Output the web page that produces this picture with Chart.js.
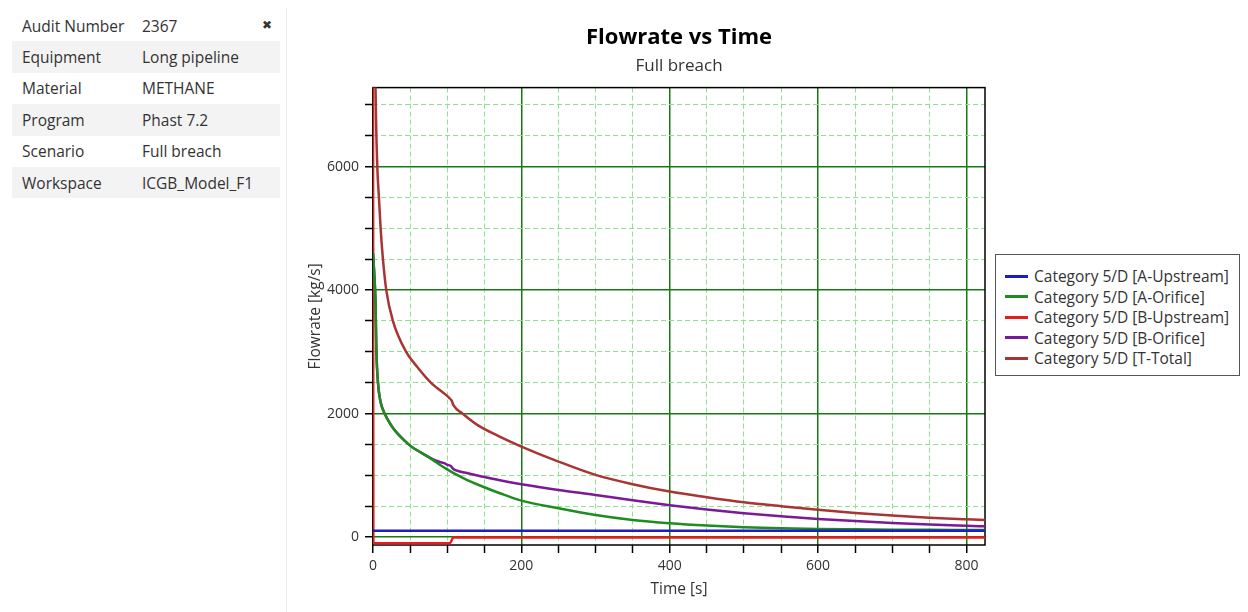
<!DOCTYPE html>
<html>
<head>
<meta charset="utf-8">
<script src="https://cdn.jsdelivr.net/npm/chart.js@4"></script>
<style>
  body { margin: 0; width: 1248px; height: 612px; background: #fff; position: relative; overflow: hidden;
         font-family: "Open Sans", sans-serif; color: #333; }
  #info { position: absolute; left: 12px; top: 10px; width: 268px; border-collapse: collapse; font-size: 15.5px; }
  #info td { height: 31.4px; padding: 0 0 0 10px; white-space: nowrap; }
  #info td:first-child { width: 110px; }
  #info tr:nth-child(even) { background: #f3f3f3; }
  #close { position: absolute; left: 262px; top: 16px; font-size: 12px; color: #333; }
  #divider { position: absolute; left: 286px; top: 8px; width: 1px; height: 604px; background: #ececec; }
  #wrap { position: absolute; left: 290px; top: 0; width: 778px; height: 612px; }
  #legend { position: absolute; left: 995px; top: 254px; width: 245px; height: 122px; border: 1px solid #555;
            box-sizing: border-box; padding-top: 11px; background: #fff; font-size: 15.5px; }
  #legend div { height: 20.5px; line-height: 20.5px; white-space: nowrap; }
  #legend span { display: inline-block; width: 23px; height: 3px; margin: 0 6px 3px 9px; vertical-align: middle; }
</style>
</head>
<body>
<table id="info"></table>
<div id="close">&#10006;</div>
<div id="divider"></div>
<div id="wrap"><canvas id="myChart"></canvas></div>
<div id="legend"></div>
<script>
// info panel
const infoKeys = ["Audit Number", "Equipment", "Material", "Program", "Scenario", "Workspace"];
const infoValues = ["2367", "Long pipeline", "METHANE", "Phast 7.2", "Full breach", "ICGB_Model_F1"];

// series
const seriesNames = ["Category 5/D [A-Upstream]", "Category 5/D [A-Orifice]", "Category 5/D [B-Upstream]",
  "Category 5/D [B-Orifice]", "Category 5/D [T-Total]"];
const seriesColors = ["#1c1cc8", "#1e8c1e", "#e81c1c", "#7a1a96", "#a83434"];

const upstreamATime = [0, 825];
const upstreamAFlow = [100, 100];

const orificeATime = [0, 2, 3.4, 4.5, 6.7, 10, 15.7, 25, 32, 42.5, 50, 60, 70, 81, 90, 100, 110, 125, 145, 171,
  200, 250, 300, 350, 400, 450, 500, 550, 600, 650, 700, 750, 800, 825];
const orificeAFlow = [4600, 4200, 3800, 3050, 2500, 2200, 2000, 1800, 1690, 1560, 1480, 1400, 1330, 1245, 1170,
  1095, 1025, 935, 830, 709, 589, 465, 357, 276, 222, 184, 157, 140, 130, 124, 119, 116, 114, 113];

const upstreamBTime = [0, 0.5, 104, 108, 825];
const upstreamBFlow = [9000, -100, -100, -10, -10];

const orificeBTime = [0, 2, 3.4, 4.5, 6.7, 10, 15.7, 25, 32, 42.5, 50, 60, 70, 81, 90, 96, 100, 105, 108, 112,
  125, 145, 171, 200, 250, 300, 350, 400, 450, 500, 550, 600, 650, 700, 750, 800, 825];
const orificeBFlow = [4600, 4200, 3800, 3050, 2500, 2200, 2000, 1800, 1690, 1560, 1480, 1400, 1330, 1258, 1215,
  1195, 1170, 1150, 1105, 1078, 1040, 985, 918, 855, 762, 681, 595, 515, 445, 385, 335, 293, 258, 228, 203, 182, 172];

const totalTime = [0, 3.4, 5.8, 8, 10.3, 13.4, 17.9, 26.8, 44.7, 60, 78, 103, 106, 108.6, 120.6, 140, 170, 200,
  250, 300, 350, 400, 450, 500, 550, 600, 650, 700, 750, 800, 825];
const totalFlow = [12000, 7300, 6000, 5500, 5000, 4500, 4000, 3500, 3000, 2750, 2500, 2250, 2210, 2130, 2000,
  1820, 1630, 1465, 1222, 1006, 855, 735, 644, 562, 498, 440, 390, 348, 313, 287, 276];

// axes
const xMin = 0, xMax = 825;
const yMin = -130, yMax = 7280;
const xTicks = [0, 50, 100, 150, 200, 250, 300, 350, 400, 450, 500, 550, 600, 650, 700, 750, 800];
const xTickLabels = [0, 200, 400, 600, 800];
const yTicks = [0, 500, 1000, 1500, 2000, 2500, 3000, 3500, 4000, 4500, 5000, 5500, 6000, 6500, 7000];
const yTickLabels = [0, 2000, 4000, 6000];

const info = document.getElementById("info");
infoKeys.forEach((k, i) => {
  let tr = document.createElement("tr");
  tr.innerHTML = `<td>${k}</td><td>${infoValues[i]}</td>`;
  info.appendChild(tr);
});

const legend = document.getElementById("legend");
seriesNames.forEach((n, i) => {
  let d = document.createElement("div");
  d.innerHTML = `<span style="background:${seriesColors[i]}"></span>${n}`;
  legend.appendChild(d);
});

const times = [upstreamATime, orificeATime, upstreamBTime, orificeBTime, totalTime];
const flows = [upstreamAFlow, orificeAFlow, upstreamBFlow, orificeBFlow, totalFlow];

const datasets = seriesNames.map((n, i) => ({
  label: n,
  data: times[i].map((t, j) => ({ x: t, y: flows[i][j] })),
  borderColor: seriesColors[i],
  borderWidth: 2.5,
  pointRadius: 0,
  fill: false,
  cubicInterpolationMode: "monotone",
}));

const majorGreen = "#157a15";
const minorGreen = "#90e090";

const isMajor = (ctx, labels) => ctx.tick && labels.includes(ctx.tick.value);

// black box round the plot area
const frame = {
  id: "frame",
  beforeDatasetsDraw(chart) {
    const a = chart.chartArea, c = chart.ctx;
    c.save();
    c.strokeStyle = "#000";
    c.lineWidth = 1.5;
    c.strokeRect(a.left, a.top, a.right - a.left, a.bottom - a.top);
    c.restore();
  }
};

const axisFont = { family: "Open Sans", size: 14 };
const titleFont = { family: "Open Sans", size: 15.5 };

new Chart(document.getElementById("myChart"), {
  type: "line",
  data: { datasets },
  plugins: [frame],
  options: {
    responsive: true,
    maintainAspectRatio: false,
    animation: false,
    layout: { padding: { left: 12, right: 83, top: 0, bottom: 0 } },
    plugins: {
      legend: { display: false },
      tooltip: { enabled: false },
      title: {
        display: true,
        fullSize: false,
        text: "Flowrate vs Time",
        color: "#000",
        font: { family: "Open Sans", size: 22, weight: "bold" },
        padding: { top: 25, bottom: 2 },
      },
      subtitle: {
        display: true,
        fullSize: false,
        text: "Full breach",
        color: "#333",
        font: { family: "Open Sans", size: 17 },
        padding: { top: 3, bottom: 10.8 },
      },
    },
    scales: {
      x: {
        type: "linear",
        min: xMin,
        max: xMax,
        afterBuildTicks: (s) => { s.ticks = xTicks.map((v) => ({ value: v })); },
        afterFit: (s) => { s.height = 67; },
        ticks: {
          autoSkip: false,
          maxRotation: 0,
          padding: 5,
          color: "#333",
          font: axisFont,
          callback: (v) => (xTickLabels.includes(v) ? String(v) : ""),
        },
        grid: {
          color: (ctx) => (isMajor(ctx, xTickLabels) ? majorGreen : minorGreen),
          lineWidth: (ctx) => (isMajor(ctx, xTickLabels) ? 1.5 : 1),
          tickColor: "#000",
          tickLength: 8,
          tickWidth: 1.5,
        },
        border: {
          display: false,
          dash: (ctx) => (isMajor(ctx, xTickLabels) ? [] : [5, 3]),
        },
        title: {
          display: true,
          text: "Time [s]",
          color: "#333",
          font: titleFont,
          padding: { top: 4, bottom: 13 },
        },
      },
      y: {
        type: "linear",
        min: yMin,
        max: yMax,
        afterBuildTicks: (s) => { s.ticks = yTicks.map((v) => ({ value: v })); },
        afterFit: (s) => { s.width = 71; },
        ticks: {
          autoSkip: false,
          padding: 6,
          color: "#333",
          font: axisFont,
          callback: (v) => (yTickLabels.includes(v) ? String(v) : ""),
        },
        grid: {
          color: (ctx) => (isMajor(ctx, yTickLabels) ? majorGreen : minorGreen),
          lineWidth: (ctx) => (isMajor(ctx, yTickLabels) ? 1.5 : 1),
          tickColor: "#000",
          tickLength: 8,
          tickWidth: 1.5,
        },
        border: {
          display: false,
          dash: (ctx) => (isMajor(ctx, yTickLabels) ? [] : [5, 3]),
        },
        title: {
          display: true,
          text: "Flowrate [kg/s]",
          color: "#333",
          font: titleFont,
          padding: { top: 4, bottom: 4 },
        },
      },
    },
  },
});
</script>
</body>
</html>
